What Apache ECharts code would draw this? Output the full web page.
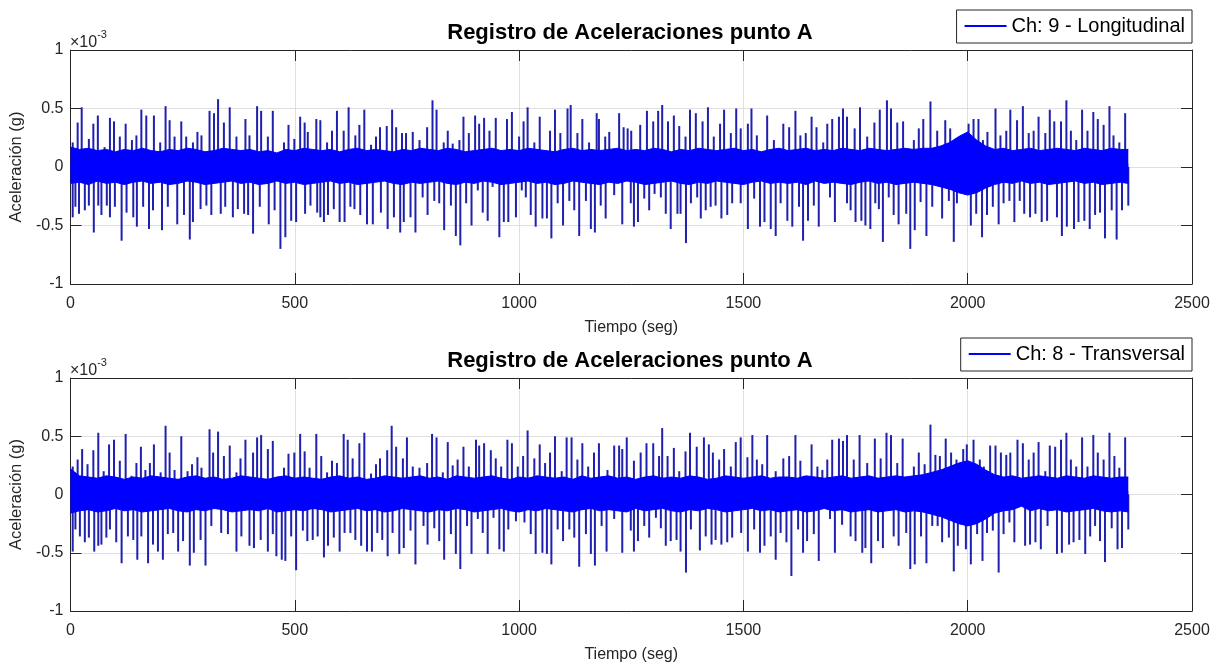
<!DOCTYPE html>
<html>
<head>
<meta charset="utf-8">
<script src="https://cdn.jsdelivr.net/npm/echarts@6/dist/echarts.min.js"></script>
<style>
  html, body { margin: 0; padding: 0; background: #fff; }
  #chart { width: 1220px; height: 664px; }
</style>
</head>
<body>
<div id="chart"></div>
<script>
// Acceleration records, point A. Amplitudes in units of 1e-3 g, time in seconds.
const TITLE = 'Registro de Aceleraciones punto A';
const CH9 = 'Ch: 9 - Longitudinal';
const CH8 = 'Ch: 8 - Transversal';
const X_TICKS = { min: 0, max: 2500, step: 500 };
const Y_TICKS = { min: -1, max: 1, step: 0.5 };

// Time grid for the envelope of the dense background vibration
const bandTime = [
  0,20,40,60,80,100,120,140,160,180,200,220,240,260,280,300,320,340,360,380,
  400,420,440,460,480,500,520,540,560,580,600,620,640,660,680,700,720,740,760,780,
  800,820,840,860,880,900,920,940,960,980,1000,1020,1040,1060,1080,1100,1120,1140,1160,1180,
  1200,1220,1240,1260,1280,1300,1320,1340,1360,1380,1400,1420,1440,1460,1480,1500,1520,1540,1560,1580,
  1600,1620,1640,1660,1680,1700,1720,1740,1760,1780,1800,1820,1840,1860,1880,1900,1920,1940,1960,1980,
  2000,2020,2040,2060,2080,2100,2120,2140,2160,2180,2200,2220,2240,2260,2280,2300,2320,2340,
  2358
];

// Channel 9 (longitudinal): band envelope
const ch9Upper = [
  0.17,0.15,0.16,0.14,0.15,0.13,0.15,0.14,0.16,0.14,0.13,0.15,0.14,0.16,0.15,0.13,0.14,0.16,0.15,0.14,
  0.15,0.13,0.14,0.12,0.15,0.14,0.16,0.15,0.14,0.15,0.13,0.15,0.16,0.14,0.15,0.14,0.13,0.15,0.14,0.16,
  0.15,0.14,0.16,0.15,0.13,0.14,0.15,0.16,0.14,0.15,0.14,0.16,0.15,0.14,0.13,0.15,0.16,0.14,0.15,0.14,
  0.15,0.16,0.14,0.15,0.14,0.16,0.15,0.13,0.15,0.14,0.16,0.15,0.14,0.15,0.16,0.14,0.15,0.13,0.15,0.16,
  0.14,0.15,0.16,0.14,0.15,0.14,0.16,0.15,0.14,0.16,0.15,0.14,0.15,0.16,0.15,0.16,0.16,0.18,0.21,0.26,
  0.30,0.23,0.18,0.15,0.16,0.14,0.15,0.16,0.14,0.15,0.16,0.15,0.14,0.16,0.15,0.14,0.16,0.15,
  0.15
];
const ch9Lower = [
  -0.14,-0.13,-0.15,-0.12,-0.14,-0.13,-0.15,-0.13,-0.12,-0.14,-0.13,-0.15,-0.14,-0.12,-0.13,-0.15,-0.14,-0.13,-0.12,-0.14,
  -0.13,-0.15,-0.14,-0.12,-0.14,-0.13,-0.15,-0.14,-0.13,-0.12,-0.14,-0.13,-0.15,-0.14,-0.13,-0.12,-0.14,-0.15,-0.13,-0.14,
  -0.13,-0.12,-0.14,-0.15,-0.13,-0.14,-0.12,-0.13,-0.15,-0.14,-0.13,-0.12,-0.14,-0.13,-0.15,-0.14,-0.12,-0.13,-0.14,-0.15,
  -0.13,-0.14,-0.12,-0.13,-0.15,-0.14,-0.13,-0.12,-0.14,-0.15,-0.13,-0.14,-0.12,-0.13,-0.14,-0.15,-0.13,-0.12,-0.14,-0.13,
  -0.14,-0.13,-0.15,-0.12,-0.14,-0.13,-0.14,-0.15,-0.13,-0.12,-0.14,-0.13,-0.15,-0.14,-0.13,-0.14,-0.15,-0.17,-0.19,-0.22,
  -0.24,-0.22,-0.18,-0.15,-0.13,-0.14,-0.12,-0.14,-0.13,-0.15,-0.14,-0.13,-0.12,-0.14,-0.13,-0.15,-0.14,-0.13,
  -0.14
];

// Channel 9: individual peaks [time, amplitude]
const ch9PeaksUp = [
  [5,0.21],[16,0.38],[25,0.51],[41,0.24],[51,0.37],[61,0.44],[76,0.17],[88,0.42],[97,0.39],[110,0.26],
  [123,0.37],[137,0.23],[147,0.27],[158,0.49],[169,0.44],[186,0.44],[200,0.21],[212,0.52],[221,0.40],[232,0.26],
  [247,0.39],[258,0.26],[273,0.21],[283,0.30],[292,0.27],[310,0.48],[320,0.46],[329,0.58],[342,0.38],[355,0.51],
  [370,0.26],[390,0.41],[399,0.27],[416,0.52],[425,0.48],[440,0.26],[451,0.48],[476,0.21],[486,0.36],[499,0.24],
  [512,0.43],[522,0.38],[529,0.30],[548,0.41],[557,0.40],[572,0.21],[583,0.31],[594,0.48],[609,0.31],[620,0.51],
  [635,0.27],[644,0.36],[655,0.49],[670,0.19],[681,0.26],[690,0.34],[705,0.35],[717,0.49],[726,0.34],[739,0.29],
  [748,0.29],[763,0.30],[778,0.23],[795,0.34],[807,0.57],[816,0.49],[832,0.21],[841,0.31],[852,0.20],[867,0.23],
  [876,0.43],[888,0.29],[902,0.44],[911,0.37],[922,0.42],[934,0.31],[948,0.42],[973,0.41],[984,0.47],[1000,0.26],
  [1010,0.39],[1019,0.51],[1034,0.21],[1046,0.43],[1069,0.31],[1080,0.49],[1092,0.29],[1108,0.50],[1115,0.53],[1130,0.29],
  [1141,0.41],[1156,0.21],[1173,0.46],[1178,0.41],[1192,0.26],[1201,0.30],[1223,0.46],[1233,0.34],[1242,0.33],[1250,0.31],
  [1270,0.36],[1285,0.48],[1299,0.39],[1310,0.48],[1319,0.53],[1332,0.39],[1345,0.44],[1357,0.35],[1371,0.26],[1381,0.49],
  [1394,0.46],[1409,0.39],[1421,0.51],[1434,0.26],[1448,0.37],[1457,0.49],[1472,0.29],[1484,0.50],[1494,0.33],[1510,0.37],
  [1518,0.50],[1530,0.27],[1553,0.44],[1568,0.23],[1589,0.37],[1602,0.34],[1616,0.48],[1627,0.27],
  [1639,0.29],[1652,0.43],[1663,0.34],[1678,0.21],[1687,0.37],[1698,0.41],[1713,0.43],[1722,0.50],[1731,0.43],[1748,0.33],
  [1760,0.51],[1776,0.26],[1792,0.38],[1804,0.49],[1820,0.57],[1829,0.50],[1843,0.38],[1856,0.39],[1880,0.23],[1891,0.33],
  [1901,0.41],[1917,0.56],[1932,0.31],[1950,0.40],[1961,0.33],[1991,0.27],[2002,0.37],[2013,0.41],[2024,0.41],[2034,0.23],
  [2044,0.30],[2062,0.50],[2073,0.27],[2086,0.31],[2095,0.49],[2110,0.40],[2123,0.52],[2136,0.29],[2147,0.31],[2158,0.43],
  [2173,0.29],[2183,0.49],[2193,0.39],[2208,0.39],[2220,0.57],[2230,0.31],[2242,0.23],[2255,0.49],[2267,0.31],[2280,0.47],
  [2290,0.41],[2303,0.36],[2316,0.52],[2325,0.27],[2338,0.21],[2351,0.46]
];
const ch9PeaksDown = [
  [5,-0.43],[11,-0.34],[19,-0.40],[32,-0.37],[41,-0.33],[52,-0.56],[62,-0.33],[69,-0.41],[81,-0.33],[88,-0.43],
  [99,-0.34],[114,-0.63],[125,-0.39],[140,-0.43],[148,-0.51],[162,-0.34],[175,-0.53],[184,-0.37],[204,-0.54],[217,-0.34],
  [238,-0.49],[253,-0.41],[266,-0.62],[273,-0.47],[290,-0.36],[303,-0.33],[314,-0.41],[335,-0.40],[345,-0.34],[362,-0.43],
  [373,-0.36],[387,-0.40],[396,-0.41],[407,-0.57],[422,-0.34],[442,-0.49],[455,-0.37],[468,-0.70],[479,-0.60],[492,-0.46],
  [503,-0.47],[523,-0.40],[535,-0.33],[550,-0.39],[557,-0.43],[565,-0.47],[574,-0.41],[587,-0.36],[600,-0.47],[611,-0.47],
  [624,-0.34],[633,-0.36],[646,-0.41],[661,-0.49],[674,-0.49],[692,-0.39],[707,-0.53],[721,-0.43],[735,-0.56],
  [743,-0.47],[758,-0.43],[769,-0.56],[785,-0.26],[796,-0.41],[811,-0.29],[822,-0.31],[833,-0.54],[848,-0.33],[859,-0.59],
  [869,-0.67],[882,-0.31],[894,-0.50],[908,-0.20],[919,-0.39],[930,-0.46],[941,-0.17],[956,-0.60],[966,-0.47],[976,-0.47],
  [993,-0.43],[1006,-0.20],[1015,-0.26],[1026,-0.41],[1037,-0.51],[1052,-0.44],[1062,-0.44],[1072,-0.61],[1086,-0.31],[1098,-0.50],
  [1112,-0.29],[1123,-0.37],[1134,-0.59],[1149,-0.29],[1160,-0.53],[1169,-0.56],[1182,-0.33],[1193,-0.44],[1212,-0.24],[1230,-0.49],
  [1249,-0.31],[1256,-0.51],[1265,-0.47],[1279,-0.27],[1290,-0.37],[1302,-0.23],[1316,-0.26],[1327,-0.40],[1338,-0.53],[1353,-0.40],
  [1360,-0.40],[1372,-0.65],[1383,-0.31],[1397,-0.26],[1405,-0.44],[1416,-0.37],[1427,-0.34],[1438,-0.33],[1451,-0.44],[1464,-0.41],
  [1475,-0.31],[1494,-0.31],[1510,-0.53],[1524,-0.27],[1537,-0.51],[1547,-0.47],[1561,-0.53],[1572,-0.59],[1583,-0.31],[1598,-0.46],
  [1609,-0.51],[1624,-0.34],
  [1633,-0.63],[1644,-0.46],[1657,-0.33],[1668,-0.51],[1693,-0.26],[1704,-0.47],[1731,-0.31],[1739,-0.37],[1750,-0.47],[1763,-0.46],
  [1772,-0.50],[1783,-0.53],[1794,-0.31],[1802,-0.36],[1811,-0.64],[1824,-0.26],[1835,-0.41],[1846,-0.49],[1863,-0.40],[1872,-0.70],
  [1882,-0.54],[1895,-0.30],[1908,-0.59],[1921,-0.34],[1943,-0.44],[1958,-0.29],[1969,-0.64],[1976,-0.31],[2007,-0.50],[2019,-0.40],
  [2032,-0.60],[2043,-0.41],[2056,-0.34],[2069,-0.49],[2080,-0.31],[2093,-0.29],[2104,-0.47],[2116,-0.29],[2126,-0.40],[2139,-0.43],
  [2151,-0.40],[2165,-0.47],[2177,-0.46],[2199,-0.43],[2210,-0.59],[2221,-0.51],[2237,-0.53],[2247,-0.47],[2260,-0.46],[2272,-0.53],
  [2284,-0.41],[2295,-0.39],[2306,-0.61],[2321,-0.37],[2332,-0.62],[2344,-0.37],[2358,-0.33]
];

// Channel 8 (transversal): band envelope
const ch8Upper = [
  0.22,0.16,0.15,0.14,0.16,0.15,0.13,0.15,0.14,0.16,0.15,0.14,0.13,0.15,0.16,0.14,0.15,0.13,0.14,0.16,
  0.15,0.14,0.13,0.15,0.16,0.14,0.15,0.14,0.13,0.15,0.16,0.14,0.15,0.13,0.14,0.16,0.15,0.14,0.15,0.16,
  0.14,0.15,0.13,0.16,0.15,0.14,0.15,0.16,0.14,0.13,0.15,0.14,0.16,0.15,0.14,0.15,0.13,0.16,0.14,0.15,
  0.16,0.14,0.15,0.13,0.15,0.16,0.14,0.15,0.14,0.16,0.15,0.13,0.14,0.16,0.15,0.14,0.15,0.16,0.14,0.15,
  0.15,0.14,0.16,0.15,0.14,0.15,0.16,0.14,0.15,0.16,0.14,0.15,0.16,0.15,0.16,0.17,0.19,0.21,0.24,0.27,
  0.29,0.26,0.21,0.17,0.15,0.16,0.14,0.15,0.16,0.15,0.14,0.16,0.15,0.14,0.16,0.15,0.14,0.15,
  0.15
];
const ch8Lower = [
  -0.16,-0.14,-0.13,-0.15,-0.14,-0.12,-0.14,-0.13,-0.15,-0.14,-0.13,-0.12,-0.14,-0.15,-0.13,-0.14,-0.12,-0.13,-0.15,-0.14,
  -0.13,-0.14,-0.12,-0.15,-0.14,-0.13,-0.14,-0.12,-0.13,-0.15,-0.14,-0.13,-0.12,-0.14,-0.13,-0.15,-0.14,-0.12,-0.13,-0.14,
  -0.15,-0.13,-0.14,-0.12,-0.13,-0.15,-0.14,-0.13,-0.12,-0.14,-0.15,-0.13,-0.14,-0.12,-0.13,-0.14,-0.15,-0.13,-0.12,-0.14,
  -0.13,-0.14,-0.15,-0.12,-0.14,-0.13,-0.12,-0.14,-0.15,-0.13,-0.14,-0.12,-0.13,-0.15,-0.14,-0.13,-0.12,-0.14,-0.13,-0.15,
  -0.14,-0.13,-0.15,-0.14,-0.12,-0.14,-0.13,-0.15,-0.14,-0.13,-0.15,-0.14,-0.13,-0.15,-0.14,-0.15,-0.17,-0.19,-0.22,-0.25,
  -0.27,-0.25,-0.21,-0.16,-0.14,-0.13,-0.10,-0.14,-0.12,-0.14,-0.13,-0.15,-0.14,-0.13,-0.12,-0.14,-0.15,-0.14,
  -0.15
];

// Channel 8: individual peaks [time, amplitude]
const ch8PeaksUp = [
  [5,0.24],[16,0.30],[26,0.39],[38,0.26],[51,0.38],[62,0.53],[74,0.20],[86,0.43],[97,0.47],[110,0.29],
  [123,0.52],[136,0.16],[147,0.27],[157,0.41],[167,0.21],[177,0.27],[186,0.43],[201,0.19],[212,0.59],[221,0.36],
  [232,0.21],[247,0.50],[261,0.20],[271,0.26],[283,0.32],[292,0.23],[310,0.56],[318,0.36],[329,0.54],[342,0.33],
  [355,0.42],[370,0.19],[379,0.31],[390,0.47],[407,0.36],[416,0.49],[425,0.51],[440,0.39],[451,0.46],[476,0.23],
  [486,0.35],[499,0.36],[512,0.52],[522,0.37],[533,0.23],[548,0.52],[559,0.33],[572,0.19],[583,0.29],[594,0.27],
  [609,0.52],[618,0.47],[629,0.31],[644,0.44],[655,0.53],[670,0.18],[681,0.26],[690,0.31],[706,0.38],[716,0.59],
  [726,0.41],[741,0.31],
  [750,0.49],[763,0.24],[778,0.23],[795,0.27],[806,0.52],[816,0.49],[830,0.19],[841,0.45],[852,0.25],[863,0.30],
  [876,0.41],[888,0.24],[904,0.47],[911,0.42],[922,0.44],[937,0.38],[948,0.31],[960,0.24],[974,0.47],[984,0.44],
  [997,0.24],[1009,0.33],[1019,0.55],[1034,0.31],[1046,0.43],[1058,0.27],[1069,0.36],[1080,0.50],[1095,0.20],[1106,0.49],
  [1117,0.49],[1130,0.30],[1141,0.44],[1154,0.24],[1167,0.36],[1178,0.44],[1197,0.21],[1212,0.42],[1223,0.42],[1230,0.39],
  [1240,0.49],[1256,0.29],[1271,0.36],[1284,0.44],[1299,0.44],[1312,0.33],[1319,0.57],[1331,0.33],[1345,0.40],[1357,0.20],
  [1371,0.37],[1381,0.53],[1396,0.41],[1412,0.49],[1423,0.43],[1432,0.36],[1446,0.30],[1457,0.39],[1472,0.24],[1483,0.45],
  [1494,0.49],[1509,0.32],[1520,0.51],[1530,0.30],[1542,0.26],[1553,0.51],[1572,0.20],[1589,0.31],[1602,0.33],[1616,0.51],
  [1627,0.29],
  [1635,0.16],[1652,0.43],[1665,0.24],[1676,0.21],[1687,0.30],[1698,0.47],[1713,0.48],[1722,0.46],[1731,0.51],[1746,0.30],
  [1759,0.51],[1776,0.27],[1793,0.48],[1806,0.31],[1819,0.53],[1829,0.51],[1843,0.27],[1855,0.48],[1880,0.24],[1891,0.36],
  [1904,0.26],[1917,0.60],[1928,0.34],[1938,0.33],[1951,0.48],[1963,0.36],[1975,0.30],[1990,0.39],[1998,0.43],[2013,0.47],
  [2027,0.30],[2036,0.24],[2050,0.42],[2062,0.42],[2074,0.36],[2086,0.34],[2095,0.36],[2111,0.47],[2123,0.44],[2136,0.30],
  [2147,0.36],[2158,0.45],[2173,0.20],[2183,0.42],[2195,0.41],[2208,0.47],[2220,0.53],[2230,0.30],[2242,0.24],[2255,0.49],
  [2267,0.24],[2280,0.51],[2290,0.36],[2303,0.30],[2316,0.53],[2327,0.33],[2338,0.23],[2351,0.49]
];
const ch8PeaksDown = [
  [5,-0.49],[11,-0.30],[21,-0.36],[32,-0.41],[41,-0.37],[53,-0.49],[62,-0.44],[69,-0.43],[80,-0.37],[88,-0.30],
  [102,-0.41],[114,-0.59],[128,-0.36],[140,-0.39],[149,-0.56],[158,-0.36],[173,-0.59],[184,-0.43],[195,-0.49],[206,-0.56],
  [217,-0.34],[229,-0.33],[240,-0.49],[251,-0.40],[266,-0.61],[275,-0.50],[290,-0.39],[301,-0.61],[314,-0.27],[336,-0.33],
  [351,-0.34],[370,-0.49],[381,-0.36],[399,-0.44],[409,-0.46],[424,-0.39],[440,-0.49],[451,-0.34],[459,-0.53],[471,-0.56],
  [479,-0.57],[492,-0.36],[503,-0.65],[518,-0.31],[528,-0.40],[540,-0.39],[551,-0.36],[565,-0.54],[574,-0.44],[587,-0.37],
  [600,-0.49],[611,-0.33],[624,-0.33],[635,-0.39],[648,-0.44],[661,-0.49],[672,-0.49],[684,-0.33],[695,-0.39],[707,-0.53],
  [718,-0.33],[733,-0.51],
  [743,-0.46],[758,-0.31],[769,-0.60],[787,-0.27],[796,-0.43],[811,-0.29],[822,-0.40],[833,-0.56],[848,-0.34],[859,-0.51],
  [869,-0.64],[884,-0.27],[894,-0.51],[908,-0.21],[919,-0.33],[930,-0.51],[943,-0.20],[956,-0.47],[966,-0.49],[976,-0.30],
  [993,-0.23],[1012,-0.24],[1026,-0.34],[1037,-0.51],[1052,-0.50],[1062,-0.51],[1072,-0.60],[1086,-0.30],[1098,-0.40],[1112,-0.30],
  [1123,-0.37],[1134,-0.62],[1149,-0.34],[1160,-0.51],[1169,-0.61],[1184,-0.27],[1195,-0.49],[1212,-0.21],[1230,-0.50],[1249,-0.31],
  [1256,-0.49],[1265,-0.40],[1279,-0.27],[1290,-0.37],[1305,-0.20],[1316,-0.29],[1327,-0.44],[1338,-0.40],[1351,-0.39],[1360,-0.49],
  [1372,-0.67],[1383,-0.30],[1403,-0.48],[1416,-0.36],[1429,-0.43],[1438,-0.39],[1451,-0.43],[1464,-0.41],[1475,-0.37],[1495,-0.33],
  [1510,-0.49],[1524,-0.30],[1537,-0.50],[1547,-0.44],[1561,-0.36],[1572,-0.56],[1583,-0.33],[1596,-0.41],[1607,-0.70],[1622,-0.30],
  [1633,-0.50],[1642,-0.40],[1657,-0.34],[1668,-0.57],[1693,-0.21],[1704,-0.50],[1720,-0.26],[1739,-0.36],[1750,-0.40],[1765,-0.50],
  [1772,-0.46],[1785,-0.59],[1800,-0.40],[1811,-0.46],[1835,-0.36],[1846,-0.44],[1863,-0.33],[1872,-0.64],[1882,-0.60],[1896,-0.36],
  [1908,-0.59],[1921,-0.27],[1933,-0.27],[1943,-0.41],[1958,-0.37],[1969,-0.66],[1978,-0.44],[1996,-0.47],[2007,-0.60],[2021,-0.34],
  [2033,-0.57],[2043,-0.33],[2056,-0.31],[2069,-0.67],[2080,-0.34],[2093,-0.24],[2104,-0.41],[2128,-0.44],[2139,-0.43],[2151,-0.41],
  [2163,-0.47],[2178,-0.27],[2199,-0.51],[2210,-0.50],[2226,-0.43],[2236,-0.41],[2249,-0.39],[2262,-0.51],[2273,-0.36],[2284,-0.27],
  [2295,-0.40],[2306,-0.58],[2321,-0.29],[2334,-0.47],[2344,-0.46],[2358,-0.30]
];

// ---- styling / layout ----
const FONT = '"Liberation Sans", Arial, Helvetica, sans-serif';
const INK = '#262626';
const BLUE = '#0000ff';
const PEAK_BLUE = '#1f1fb0';
const GRIDS = [
  { left: 69, right: 28, top: 50, height: 234 },
  { left: 69, right: 28, top: 378, height: 233 }
];
const TITLE_X = 625;

const zip = (t, v) => t.map((x, i) => [x, v[i]]);
const plain = (v) => String(v);

function xAxesFor(g) {
  const common = {
    gridIndex: g, type: 'value', min: X_TICKS.min, max: X_TICKS.max, interval: X_TICKS.step,
    axisLine: { onZero: false, lineStyle: { color: INK, width: 1 } },
    axisTick: { inside: true, length: 11, lineStyle: { color: INK, width: 1 } }
  };
  return [
    Object.assign({}, common, {
      position: 'bottom',
      name: 'Tiempo (seg)', nameLocation: 'middle', nameGap: 36,
      nameTextStyle: { fontSize: 16, color: INK, fontFamily: FONT },
      axisLabel: { margin: 12, fontSize: 16, color: INK, fontFamily: FONT, formatter: plain },
      splitLine: { show: true, lineStyle: { color: '#dfdfdf', width: 1 } }
    }),
    Object.assign({}, common, {
      position: 'top',
      axisLabel: { show: false },
      splitLine: { show: false }
    })
  ];
}

function yAxesFor(g) {
  const common = {
    gridIndex: g, type: 'value', min: Y_TICKS.min, max: Y_TICKS.max, interval: Y_TICKS.step,
    axisLine: { onZero: false, lineStyle: { color: INK, width: 1 } },
    axisTick: { inside: true, length: 11, lineStyle: { color: INK, width: 1 } }
  };
  return [
    Object.assign({}, common, {
      position: 'left',
      name: 'Aceleración (g)', nameLocation: 'middle', nameGap: 41,
      nameTextStyle: { fontSize: 16.5, color: INK, fontFamily: FONT },
      axisLabel: { margin: 7, fontSize: 16, color: INK, fontFamily: FONT, formatter: plain },
      splitLine: { show: true, lineStyle: { color: '#dfdfdf', width: 1 } }
    }),
    Object.assign({}, common, {
      position: 'right',
      axisLabel: { show: false },
      splitLine: { show: false }
    })
  ];
}

// One channel: thin peaks as bars, the dense vibration as two filled areas
// (0 → upper envelope, 0 → lower envelope) that overlap slightly around zero.
function channelSeries(name, g, upper, lower, up, down) {
  const ax = { xAxisIndex: 2 * g, yAxisIndex: 2 * g };
  const band = (vals, origin) => Object.assign({
    name, type: 'line', data: zip(bandTime, vals),
    showSymbol: false, symbol: 'none', z: 3, silent: true,
    lineStyle: { color: BLUE, width: 1 },
    itemStyle: { color: BLUE },
    areaStyle: { color: BLUE, opacity: 1, origin }
  }, ax);
  return [
    Object.assign({
      name, type: 'bar', data: up.concat(down), barWidth: 2, z: 2,
      itemStyle: { color: PEAK_BLUE }, silent: true
    }, ax),
    band(upper, -0.03),
    band(lower, 0.03)
  ];
}

function legendFor(name, top) {
  return {
    data: [{ name, icon: 'rect', itemStyle: { color: BLUE } }],
    right: 28, top,
    orient: 'horizontal',
    selectedMode: false,
    itemWidth: 42, itemHeight: 2, itemGap: 5,
    padding: [6, 7, 7, 8],
    borderColor: INK, borderWidth: 1, backgroundColor: '#fff',
    textStyle: { fontSize: 20, color: '#000', fontFamily: FONT }
  };
}

function exponentLabel(top) {
  return {
    type: 'text', left: 70, top,
    style: {
      text: '{a|×10}{b|-3}',
      fill: INK,
      rich: {
        a: { fontSize: 16, fontFamily: FONT, fill: INK, lineHeight: 22, verticalAlign: 'bottom' },
        b: { fontSize: 11, fontFamily: FONT, fill: INK, lineHeight: 22, verticalAlign: 'top' }
      }
    }
  };
}

function titleFor(top) {
  return {
    text: TITLE, left: TITLE_X, top, textAlign: 'center',
    textStyle: { fontSize: 22, fontWeight: 'bold', color: '#000', fontFamily: FONT }
  };
}

const chart = echarts.init(document.getElementById('chart'), null, { renderer: 'canvas' });
chart.setOption({
  animation: false,
  backgroundColor: '#fff',
  title: [titleFor(17), titleFor(345)],
  legend: [legendFor(CH9, 10), legendFor(CH8, 338)],
  grid: GRIDS,
  xAxis: xAxesFor(0).concat(xAxesFor(1)),
  yAxis: yAxesFor(0).concat(yAxesFor(1)),
  graphic: [exponentLabel(29), exponentLabel(357)],
  series: []
    .concat(channelSeries(CH9, 0, ch9Upper, ch9Lower, ch9PeaksUp, ch9PeaksDown))
    .concat(channelSeries(CH8, 1, ch8Upper, ch8Lower, ch8PeaksUp, ch8PeaksDown))
});
</script>
</body>
</html>
